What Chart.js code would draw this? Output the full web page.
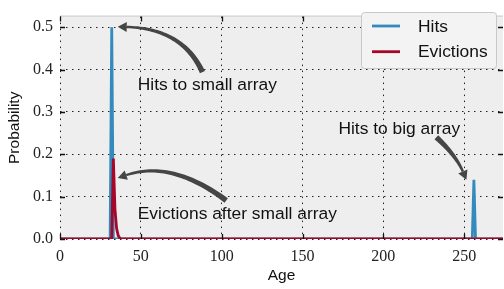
<!DOCTYPE html>
<html>
<head>
<meta charset="utf-8">
<script src="https://cdn.jsdelivr.net/npm/chart.js@4"></script>
<style>
  html, body { margin: 0; padding: 0; background: #fff; }
  #wrap { width: 504px; height: 289px; }
</style>
</head>
<body>
<div id="wrap"><canvas id="chart" width="504" height="289"></canvas></div>
<script>
// Age / probability samples
const hitsAge = [0, 31, 32, 33, 255, 256, 257, 276];
const hitsProb = [0, 0, 0.5, 0, 0, 0.14, 0, 0];
const evictAge = [0, 32, 33, 34, 35, 36, 37, 38, 276];
const evictProb = [0, 0, 0.19, 0.07, 0.025, 0.008, 0.002, 0, 0];

const xTickStep = 50;
const yTickStep = 0.1;
const xMax = 274;
const yMax = 0.525;

const seriesLabels = ['Hits', 'Evictions'];
const seriesColors = ['#348ABD', '#A60628'];

// annotation text + curved arrow, in data units
const notes = [
  { text: 'Hits to small array', at: [48.1, 0.352], tail: [88.1, 0.394], ctrl: [75.8, 0.497], head: [35.7, 0.501] },
  { text: 'Evictions after small array', at: [48.1, 0.048], tail: [102.8, 0.091], ctrl: [69.0, 0.187], head: [35.7, 0.144] },
  { text: 'Hits to big array', at: [172.2, 0.247], tail: [232.8, 0.240], ctrl: [244.6, 0.199], head: [251.4, 0.140] }
];

const SANS = "'Liberation Sans', Arial, sans-serif";
const SERIF = "'Liberation Serif', 'Times New Roman', serif";

const toPoints = (xs, ys) => xs.map((x, i) => ({ x: x, y: ys[i] }));

function drawArrow(ctx, p0, c, p2) {
  const headLen = 9, headHalf = 5, wTail = 5.5, wHead = 2.4;
  let dx = p2.x - c.x, dy = p2.y - c.y;
  const len = Math.hypot(dx, dy);
  dx /= len; dy /= len;
  const base = { x: p2.x - dx * headLen, y: p2.y - dy * headLen };
  const n = 40;
  const left = [], right = [];
  for (let i = 0; i <= n; i++) {
    const t = i / n, u = 1 - t;
    const px = u * u * p0.x + 2 * u * t * c.x + t * t * base.x;
    const py = u * u * p0.y + 2 * u * t * c.y + t * t * base.y;
    let tx = 2 * u * (c.x - p0.x) + 2 * t * (base.x - c.x);
    let ty = 2 * u * (c.y - p0.y) + 2 * t * (base.y - c.y);
    const tl = Math.hypot(tx, ty) || 1;
    tx /= tl; ty /= tl;
    const w = (wTail * u + wHead * t) / 2;
    left.push([px - ty * w, py + tx * w]);
    right.push([px + ty * w, py - tx * w]);
  }
  ctx.beginPath();
  left.forEach(([x, y], i) => i ? ctx.lineTo(x, y) : ctx.moveTo(x, y));
  right.reverse().forEach(([x, y]) => ctx.lineTo(x, y));
  ctx.closePath();
  ctx.fill();
  ctx.beginPath();
  ctx.moveTo(p2.x, p2.y);
  ctx.lineTo(base.x - dy * headHalf, base.y + dx * headHalf);
  ctx.lineTo(base.x + dy * headHalf, base.y - dx * headHalf);
  ctx.closePath();
  ctx.fill();
}

const plotDecor = {
  id: 'plotDecor',
  beforeDraw(chart) {
    const { ctx, chartArea: a } = chart;
    ctx.save();
    ctx.fillStyle = '#eeeeee';
    ctx.fillRect(a.left, a.top, a.right - a.left, a.bottom - a.top);
    ctx.strokeStyle = '#c4c4c4';
    ctx.lineWidth = 1;
    ctx.beginPath();
    ctx.moveTo(a.left, a.top - 0.5);
    ctx.lineTo(a.right, a.top - 0.5);
    ctx.stroke();
    ctx.restore();
  },
  afterDatasetsDraw(chart) {
    const { ctx, chartArea: a, scales } = chart;
    const xs = scales.x, ys = scales.y;
    ctx.save();

    // inward ticks on all four sides
    ctx.strokeStyle = '#111';
    ctx.lineWidth = 1.3;
    ctx.beginPath();
    xs.ticks.forEach(t => {
      const px = Math.round(xs.getPixelForValue(t.value)) + 0.5;
      ctx.moveTo(px, a.bottom); ctx.lineTo(px, a.bottom - 5);
      ctx.moveTo(px, a.top); ctx.lineTo(px, a.top + 5);
    });
    ys.ticks.forEach(t => {
      const py = Math.round(ys.getPixelForValue(t.value)) + 0.5;
      ctx.moveTo(a.left, py); ctx.lineTo(a.left + 5, py);
      ctx.moveTo(a.right, py); ctx.lineTo(a.right - 5, py);
    });
    ctx.stroke();

    // annotations
    ctx.fillStyle = '#454545';
    notes.forEach(nt => {
      const pt = ([x, y]) => ({ x: xs.getPixelForValue(x), y: ys.getPixelForValue(y) });
      drawArrow(ctx, pt(nt.tail), pt(nt.ctrl), pt(nt.head));
    });
    ctx.fillStyle = '#111';
    ctx.font = `17.4px ${SANS}`;
    ctx.textAlign = 'left';
    ctx.textBaseline = 'alphabetic';
    notes.forEach(nt => {
      ctx.fillText(nt.text, xs.getPixelForValue(nt.at[0]), ys.getPixelForValue(nt.at[1]));
    });

    // legend box (upper right)
    const bx = 361, by = 12, bw = 135, bh = 56;
    ctx.fillStyle = '#f3f3f3';
    ctx.strokeStyle = '#c8c8c8';
    ctx.lineWidth = 1;
    ctx.beginPath();
    ctx.roundRect(bx + 0.5, by + 0.5, bw, bh, 3);
    ctx.fill();
    ctx.stroke();
    ctx.textBaseline = 'middle';
    chart.data.datasets.forEach((ds, i) => {
      const ly = by + 14 + i * 25.7;
      ctx.strokeStyle = ds.borderColor;
      ctx.lineWidth = 2.8;
      ctx.beginPath();
      ctx.moveTo(bx + 11, ly); ctx.lineTo(bx + 39, ly);
      ctx.stroke();
      ctx.fillStyle = '#111';
      ctx.fillText(ds.label, bx + 57, ly + 1);
    });
    ctx.restore();
  }
};

const ctx = document.getElementById('chart').getContext('2d');
new Chart(ctx, {
  type: 'line',
  data: {
    datasets: [
      { label: seriesLabels[0], data: toPoints(hitsAge, hitsProb), borderColor: seriesColors[0], order: 1 },
      { label: seriesLabels[1], data: toPoints(evictAge, evictProb), borderColor: seriesColors[1], order: 0 }
    ]
  },
  options: {
    responsive: false,
    animation: false,
    devicePixelRatio: 1,
    layout: { padding: { left: 0, top: 4, right: 1, bottom: 0 } },
    elements: {
      line: { borderWidth: 2.8, tension: 0, fill: false },
      point: { radius: 0, hoverRadius: 0 }
    },
    plugins: { legend: { display: false }, tooltip: { enabled: false } },
    scales: {
      x: {
        type: 'linear',
        min: 0,
        max: xMax,
        ticks: {
          stepSize: xTickStep,
          includeBounds: false,
          color: '#222',
          padding: 8,
          font: { family: SERIF, size: 16 },
          callback: v => String(v)
        },
        grid: { color: '#222', lineWidth: 1, drawTicks: false },
        border: { display: false, dash: [1.5, 4.5] },
        title: { display: true, text: 'Age', color: '#111', font: { family: SANS, size: 15.5 }, padding: { top: 0, bottom: 4 } },
        afterFit: s => { s.height = 50; }
      },
      y: {
        min: 0,
        max: yMax,
        ticks: {
          stepSize: yTickStep,
          includeBounds: false,
          color: '#222',
          padding: 7,
          font: { family: SERIF, size: 16 },
          callback: v => v.toFixed(1)
        },
        grid: { color: '#222', lineWidth: 1, drawTicks: false },
        border: { display: false, dash: [1.5, 4.5] },
        title: { display: true, text: 'Probability', color: '#111', font: { family: SANS, size: 15.5 }, padding: { top: 5, bottom: 0 } },
        afterFit: s => { s.width = 60; }
      }
    }
  },
  plugins: [plotDecor]
});
</script>
</body>
</html>
